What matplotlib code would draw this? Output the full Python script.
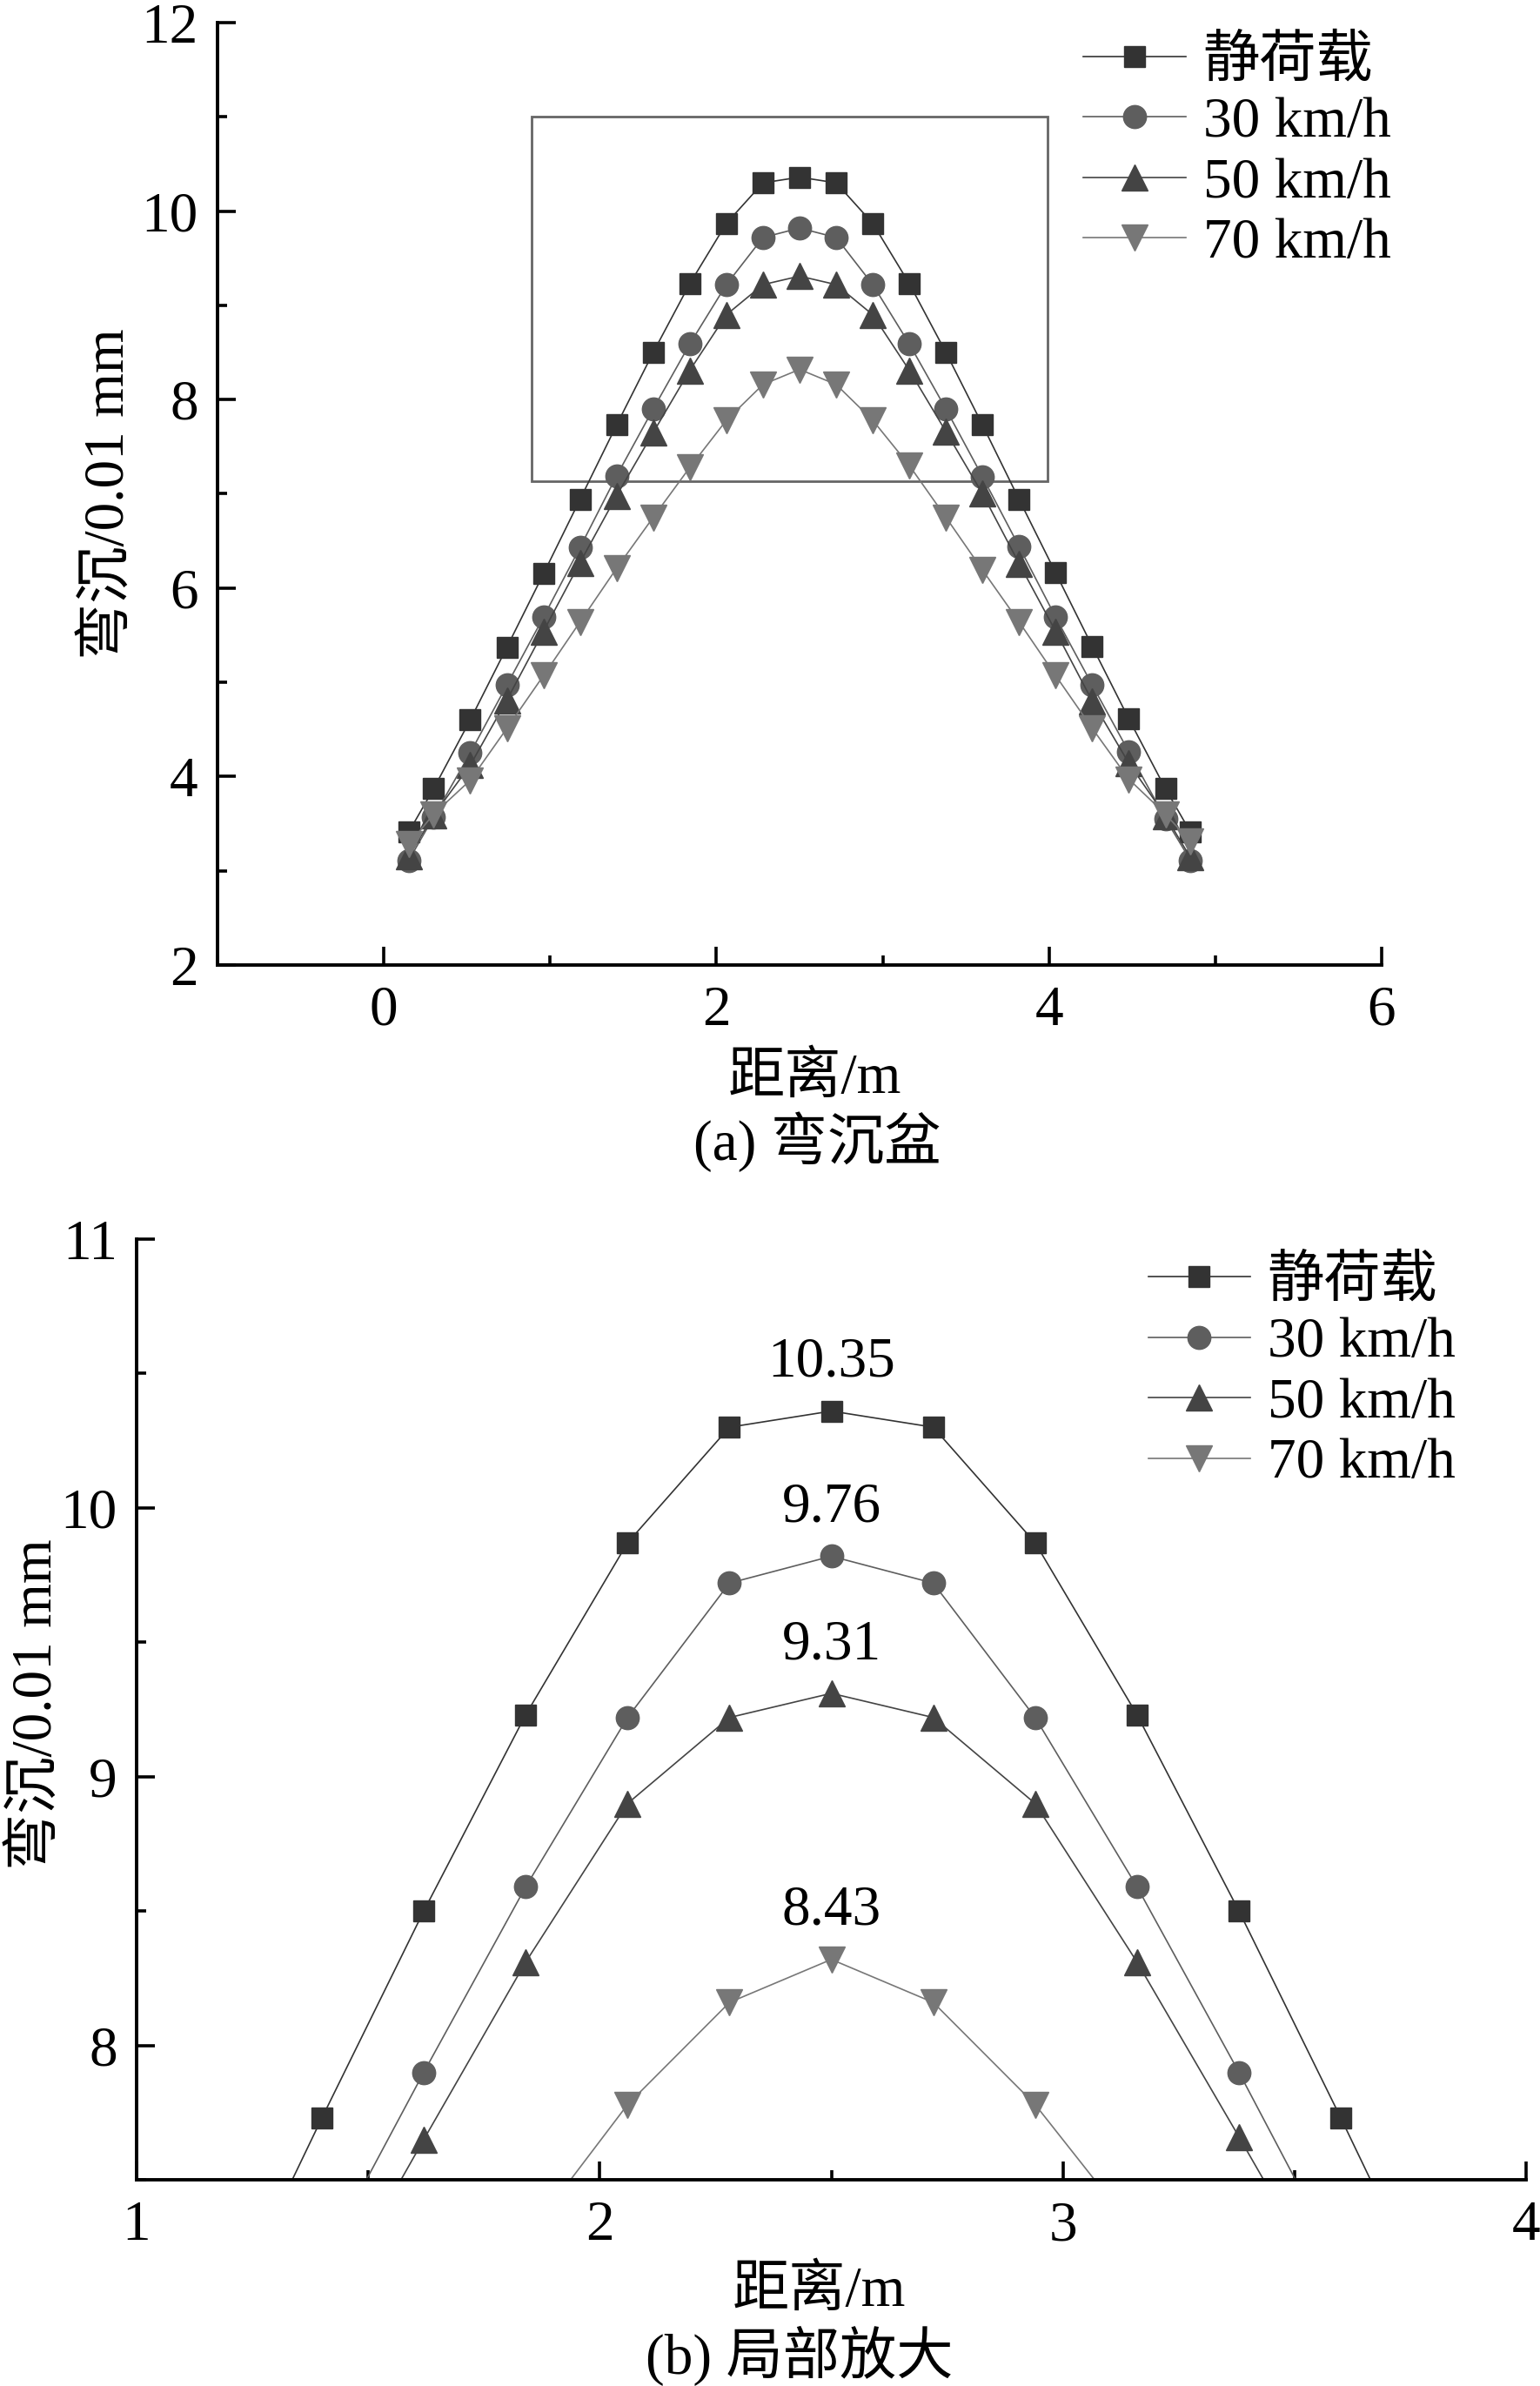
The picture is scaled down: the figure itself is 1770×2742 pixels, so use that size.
import numpy as np
import matplotlib.pyplot as plt
from matplotlib.ticker import MultipleLocator
from matplotlib.patches import Rectangle

plt.rcParams['font.family'] = ['Liberation Serif', 'Noto Sans CJK SC']

# 距离 (m)
dist = [0.15, 0.30, 0.52, 0.74, 0.96, 1.18, 1.40, 1.62, 1.84, 2.06, 2.28, 2.50,
        2.72, 2.94, 3.16, 3.38, 3.60, 3.82, 4.04, 4.26, 4.48, 4.70, 4.85]
# 弯沉 (0.01 mm)
static = [3.41, 3.87, 4.60, 5.37, 6.15, 6.94, 7.73, 8.50, 9.23, 9.87, 10.30, 10.36,
          10.30, 9.87, 9.23, 8.50, 7.73, 6.94, 6.16, 5.38, 4.61, 3.87, 3.41]
v30 = [3.11, 3.57, 4.25, 4.97, 5.69, 6.43, 7.19, 7.90, 8.59, 9.22, 9.72, 9.82,
       9.72, 9.22, 8.59, 7.90, 7.18, 6.44, 5.69, 4.97, 4.26, 3.55, 3.11]
v50 = [3.15, 3.59, 4.12, 4.81, 5.54, 6.27, 6.98, 7.65, 8.31, 8.90, 9.22, 9.31,
       9.22, 8.90, 8.31, 7.66, 7.00, 6.26, 5.54, 4.80, 4.14, 3.58, 3.14]
v70 = [3.28, 3.60, 3.96, 4.51, 5.07, 5.64, 6.21, 6.75, 7.28, 7.78, 8.16, 8.32,
       8.16, 7.78, 7.30, 6.75, 6.19, 5.64, 5.07, 4.51, 3.97, 3.60, 3.31]

names = ['静荷载', '30 km/h', '50 km/h', '70 km/h']
peak_labels = ['10.35', '9.76', '9.31', '8.43']
zoom_box = (0.89, 7.13, 3.99, 11.0)   # x0, y0, x1, y1

series = [static, v30, v50, v70]
markers = ['s', 'o', '^', 'v']
colors = ['#333333', '#5e5e5e', '#444444', '#777777']
msizes = [17, 19, 21, 21]
fs = 47

fig = plt.figure(figsize=(17.7, 27.42), dpi=100)
ax1 = fig.add_axes([0.1412, 0.5956, 0.756, 0.3949])
ax2 = fig.add_axes([0.0887, 0.0864, 0.9023, 0.3943])


def style(ax):
    for s in ['top', 'right']:
        ax.spines[s].set_visible(False)
    for s in ['left', 'bottom']:
        ax.spines[s].set_linewidth(2.8)
    ax.tick_params(which='both', direction='in', width=2.6, labelsize=fs)
    ax.tick_params(which='major', length=15)
    ax.tick_params(which='minor', length=8)
    ax.tick_params(axis='y', which='both', pad=16)
    ax.tick_params(axis='x', which='both', pad=17)


for ax in (ax1, ax2):
    for y, m, c, ms, name in zip(series, markers, colors, msizes, names):
        ax.plot(dist, y, marker=m, color=c, mfc=c, mec=c, ms=ms, lw=1.2, label=name)
    style(ax)
    ax.legend(loc='upper left', frameon=False, fontsize=fs, handlelength=1.8,
              handletextpad=0.3, labelspacing=0.15, borderaxespad=0, borderpad=0,
              bbox_to_anchor=(0.744, 0.986) if ax is ax1 else (0.728, 0.982))

# (a)
ax1.set_xlim(-1, 6)
ax1.set_ylim(2, 12)
ax1.xaxis.set_major_locator(MultipleLocator(2))
ax1.xaxis.set_minor_locator(MultipleLocator(1))
ax1.yaxis.set_major_locator(MultipleLocator(2))
ax1.yaxis.set_minor_locator(MultipleLocator(1))
ax1.set_xticks([0, 2, 4, 6])
ax1.add_patch(Rectangle((zoom_box[0], zoom_box[1]), zoom_box[2] - zoom_box[0],
                        zoom_box[3] - zoom_box[1], fill=False, ec='#666666', lw=2))
ax1.set_xlabel('距离/m', fontsize=fs, va='center')
ax1.xaxis.set_label_coords(0.513, -0.121)
ax1.set_ylabel('弯沉/0.01 mm', fontsize=fs, va='center')
ax1.yaxis.set_label_coords(-0.093, 0.5)
ax1.text(0.515, -0.188, '(a) 弯沉盆', transform=ax1.transAxes, ha='center',
         va='center', fontsize=fs)

# (b)
ax2.set_xlim(1, 4)
ax2.set_ylim(7.5, 11)
ax2.xaxis.set_major_locator(MultipleLocator(1))
ax2.xaxis.set_minor_locator(MultipleLocator(0.5))
ax2.yaxis.set_major_locator(MultipleLocator(1))
ax2.yaxis.set_minor_locator(MultipleLocator(0.5))
for y, lab in zip(series, peak_labels):
    i = int(np.argmax(y))
    ax2.text(dist[i], y[i] + 0.18, lab, ha='center', va='center', fontsize=fs)
ax2.set_xlabel('距离/m', fontsize=fs, va='center')
ax2.xaxis.set_label_coords(0.491, -0.119)
ax2.set_ylabel('弯沉/0.01 mm', fontsize=fs, va='center')
ax2.yaxis.set_label_coords(-0.072, 0.505)
ax2.text(0.477, -0.187, '(b) 局部放大', transform=ax2.transAxes, ha='center',
         va='center', fontsize=fs)

fig.savefig('out.png', dpi=100)
